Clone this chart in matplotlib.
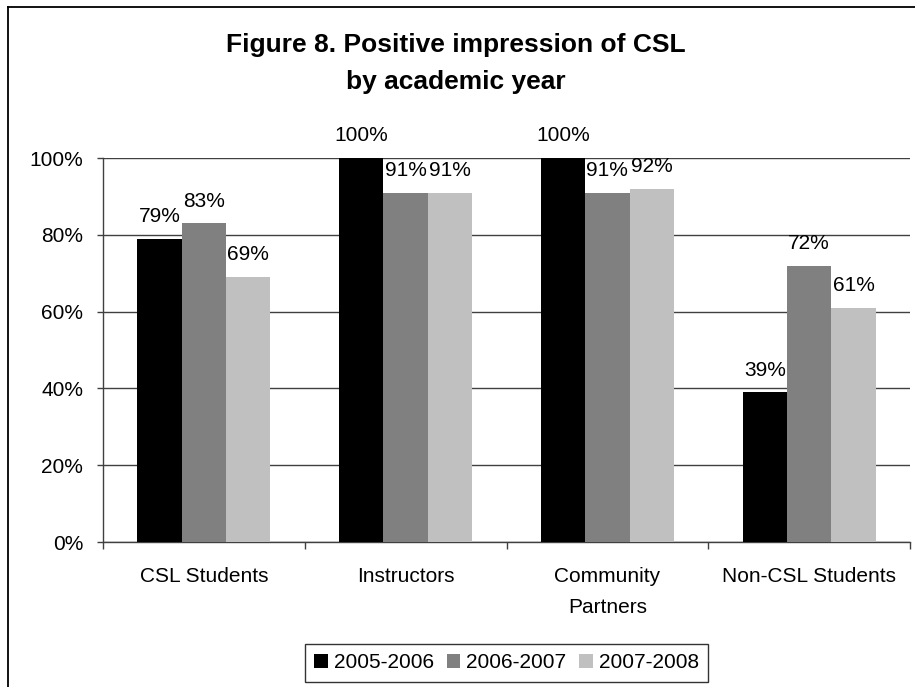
import matplotlib
matplotlib.use("Agg")
import matplotlib.pyplot as plt
import numpy as np
from matplotlib.lines import Line2D

plt.rcParams['font.family'] = ['Liberation Sans', 'DejaVu Sans']

categories = ["CSL Students", "Instructors", "Community\nPartners", "Non-CSL Students"]
series_names = ["2005-2006", "2006-2007", "2007-2008"]
v2005 = [79, 100, 100, 39]
v2006 = [83, 91, 91, 72]
v2007 = [69, 91, 92, 61]
yticks = [0, 20, 40, 60, 80, 100]
ytick_labels = ["0%", "20%", "40%", "60%", "80%", "100%"]
title = "Figure 8. Positive impression of CSL\nby academic year"

colors = ["#000000", "#808080", "#C0C0C0"]
W, H = 915, 687
fig = plt.figure(figsize=(W / 100, H / 100), dpi=100)
ax = fig.add_axes([103 / W, 1 - 542 / H, (910 - 103) / W, (542 - 158) / H])

x = np.arange(len(categories))
width = 0.22
all_vals = [v2005, v2006, v2007]
for i, (vals, name) in enumerate(zip(all_vals, series_names)):
    bars = ax.bar(x + (i - 1) * width, vals, width, color=colors[i], label=name, zorder=3, linewidth=0)
    for b, v in zip(bars, vals):
        ax.annotate(f"{v}%", (b.get_x() + b.get_width() / 2, v), xytext=(0, 12),
                    textcoords="offset points", ha="center", va="baseline",
                    fontsize=15, color="black", zorder=4, annotation_clip=False)

ax.set_xlim(-0.5, len(categories) - 0.5)
ax.set_ylim(0, 100)
ax.set_yticks(yticks)
ax.set_yticklabels(ytick_labels, fontsize=15)
ax.yaxis.grid(True, color="#404040", linewidth=1.0, zorder=0)
ax.set_axisbelow(True)

ax.set_xticks(x)
ax.set_xticklabels(categories, fontsize=15, linespacing=1.8, va="top")
ax.tick_params(axis="x", length=0, pad=18)
ax.set_xticks(np.arange(len(categories) + 1) - 0.5, minor=True)
ax.tick_params(axis="x", which="minor", length=5, width=1, color="#404040", direction="out")
ax.tick_params(axis="y", length=4.3, width=1, color="#404040", pad=10)

for s in ["top", "right"]:
    ax.spines[s].set_visible(False)
for s in ["left", "bottom"]:
    ax.spines[s].set_color("#404040")
    ax.spines[s].set_linewidth(1.0)

fig.text(0.4985, 1 - 63.5 / H, title, ha="center", va="center", fontsize=19,
         fontweight="bold", linespacing=1.65)

leg = fig.legend(loc="center", bbox_to_anchor=(506.5 / W, 1 - 663 / H), ncol=3,
                 fontsize=15, frameon=True, fancybox=False, edgecolor="black",
                 handlelength=0.65, handleheight=0.65, handletextpad=0.3,
                 columnspacing=0.6, borderpad=0.45, borderaxespad=0)
leg.get_frame().set_linewidth(1.0)

fig.add_artist(Line2D([7.5 / W, 7.5 / W], [0, 1 - 6.5 / H], transform=fig.transFigure, color="black", lw=1.3))
fig.add_artist(Line2D([7.5 / W, 1], [1 - 6.5 / H, 1 - 6.5 / H], transform=fig.transFigure, color="black", lw=1.3))

fig.savefig("out.png", dpi=100)
